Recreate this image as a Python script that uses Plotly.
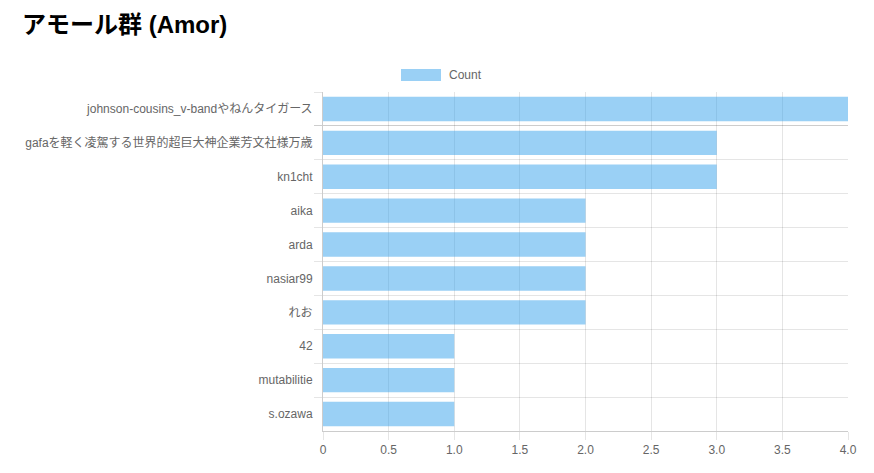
import plotly.graph_objects as go

# data
names = [
    "johnson-cousins_v-bandやねんタイガース",
    "gafaを軽く凌駕する世界的超巨大神企業芳文社様万歳",
    "kn1cht",
    "aika",
    "arda",
    "nasiar99",
    "れお",
    "42",
    "mutabilitie",
    "s.ozawa",
]
counts = [4, 3, 3, 2, 2, 2, 2, 1, 1, 1]
x_tickvals = [0, 0.5, 1.0, 1.5, 2.0, 2.5, 3.0, 3.5, 4.0]
x_ticktext = ["0", "0.5", "1.0", "1.5", "2.0", "2.5", "3.0", "3.5", "4.0"]

# the page puts the figure 8px in from the top-left corner
OFF = 8
W, H = 874 - OFF, 473 - OFF
L, R, T, B = 323 - OFF, 26, 92 - OFF, 42
pw, ph = W - L - R, H - T - B

FONT = "Liberation Sans, Arial, Noto Sans CJK JP, sans-serif"
GRID = "rgba(0,0,0,0.1)"
AXIS = "rgba(0,0,0,0.2)"

fig = go.Figure()
fig.add_trace(
    go.Bar(
        x=counts,
        y=names,
        orientation="h",
        name="Count",
        marker={"color": "rgba(54,162,235,0.5)", "line": {"width": 0}},
        showlegend=False,
        hoverinfo="x+y",
    )
)


def px_x(v):
    # window pixel -> paper coordinate
    return (v - OFF - L) / pw


def px_y(v):
    return (H - B - (v - OFF)) / ph


fig.update_layout(
    width=W,
    height=H,
    margin={"l": L, "r": R, "t": T, "b": B, "pad": 0},
    paper_bgcolor="white",
    plot_bgcolor="white",
    bargap=0.28,
    font={"family": FONT, "size": 12, "color": "#666"},
    title={
        "text": "<b>アモール群 (Amor)</b>",
        "x": (22 - OFF) / W,
        "xanchor": "left",
        "y": 1 - (25 - OFF) / H,
        "yanchor": "middle",
        "font": {"family": FONT, "size": 24, "color": "#000"},
    },
    xaxis={
        "range": [0, 4],
        "tickvals": x_tickvals,
        "ticktext": x_ticktext,
        "showgrid": True,
        "gridcolor": GRID,
        "zeroline": False,
        "showline": True,
        "linecolor": AXIS,
        "ticks": "outside",
        "ticklen": 8,
        "tickcolor": GRID,
        "fixedrange": True,
    },
    yaxis={
        "type": "category",
        "autorange": "reversed",
        "tickson": "boundaries",
        "showgrid": True,
        "gridcolor": GRID,
        "showline": True,
        "linecolor": AXIS,
        "ticks": "outside",
        "ticklen": 8,
        "tickcolor": GRID,
        "ticklabelstandoff": 7,
        "fixedrange": True,
    },
    shapes=[
        # legend swatch
        {
            "type": "rect",
            "xref": "paper",
            "yref": "paper",
            "x0": px_x(401),
            "x1": px_x(441),
            "y0": px_y(81),
            "y1": px_y(69),
            "fillcolor": "rgba(54,162,235,0.5)",
            "line": {"width": 0},
        },
    ],
    annotations=[
        {
            "text": "Count",
            "xref": "paper",
            "yref": "paper",
            "x": px_x(447),
            "y": px_y(75),
            "xanchor": "left",
            "yanchor": "middle",
            "showarrow": False,
            "font": {"family": FONT, "size": 12, "color": "#666"},
        }
    ],
)

fig.write_html("out.html")
